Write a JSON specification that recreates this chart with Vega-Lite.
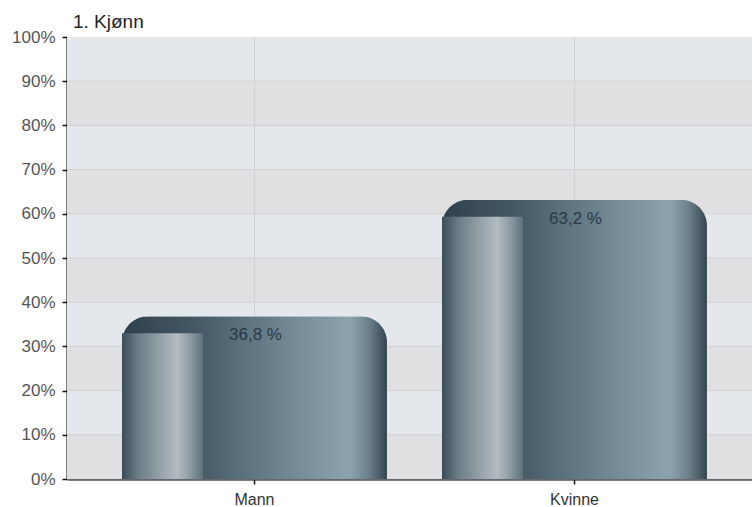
{
  "$schema": "https://vega.github.io/schema/vega-lite/v6.json",
  "width": 685,
  "height": 442,
  "autosize": {"type": "none"},
  "padding": {"left": 67, "top": 37, "right": 0, "bottom": 28},
  "background": "#ffffff",
  "config": {
    "view": {"stroke": null},
    "font": "Liberation Sans",
    "axis": {
      "labelFont": "Liberation Sans", "titleFont": "Liberation Sans",
      "domainColor": "#000000", "domainWidth": 2, "tickColor": "#111111", "tickSize": 5, "tickWidth": 1.5,
      "labelFontSize": 17, "labelPadding": 7, "grid": false, "title": null
    }
  },
  "title": {
    "text": "1. Kjønn",
    "anchor": "start",
    "frame": "group",
    "font": "Liberation Sans",
    "fontSize": 19,
    "fontWeight": "normal",
    "color": "#222222",
    "offset": -4,
    "dx": 6
  },
  "datasets": {
    "bars": [
      {"kjonn": "Mann", "pct": 36.8, "label": "36,8 %"},
      {"kjonn": "Kvinne", "pct": 63.2, "label": "63,2 %"}
    ],
    "bands": [
      {"lo": 0, "hi": 10, "kind": "a"},
      {"lo": 10, "hi": 20, "kind": "b"},
      {"lo": 20, "hi": 30, "kind": "a"},
      {"lo": 30, "hi": 40, "kind": "b"},
      {"lo": 40, "hi": 50, "kind": "a"},
      {"lo": 50, "hi": 60, "kind": "b"},
      {"lo": 60, "hi": 70, "kind": "a"},
      {"lo": 70, "hi": 80, "kind": "b"},
      {"lo": 80, "hi": 90, "kind": "a"},
      {"lo": 90, "hi": 100, "kind": "b"}
    ]
  },
  "layer": [
    {
      "data": {"name": "bands"},
      "mark": {"type": "rect"},
      "encoding": {
        "y": {"field": "lo", "type": "quantitative", "scale": {"domain": [0, 100], "nice": false},
              "axis": {"values": [0,10,20,30,40,50,60,70,80,90,100], "labelExpr": "datum.value + '%'",
                       "labelColor": "#555555"}},
        "y2": {"field": "hi"},
        "color": {"field": "kind", "type": "nominal", "scale": {"domain": ["a", "b"], "range": ["#e0e0e2", "#e4e8ec"]}, "legend": null}
      }
    },
    {
      "data": {"name": "bands"},
      "mark": {"type": "rule", "color": "#cfd0d3", "strokeWidth": 1},
      "encoding": {"y": {"field": "lo", "type": "quantitative"}}
    },
    {
      "data": {"name": "bars"},
      "mark": {"type": "rule", "color": "#cfd0d3", "strokeWidth": 1},
      "encoding": {
        "x": {"field": "kjonn", "type": "nominal", "sort": ["Mann", "Kvinne"],
              "scale": {"range": [0, 695], "paddingInner": 0.172, "paddingOuter": 0.172},
              "axis": {"labelAngle": 0, "labelColor": "#333333", "labelPadding": 7, "labelFontSize": 16}}
      }
    },
    {
      "data": {"name": "bars"},
      "mark": {
        "type": "bar",
        "cornerRadiusTopLeft": 26,
        "cornerRadiusTopRight": 26,
        "color": {
          "gradient": "linear", "x1": 0, "x2": 1, "y1": 0, "y2": 0,
          "stops": [
            {"offset": 0, "color": "#2f414b"},
            {"offset": 0.3, "color": "#465b67"},
            {"offset": 0.45, "color": "#5a707c"},
            {"offset": 0.65, "color": "#748a96"},
            {"offset": 0.86, "color": "#8da3ae"},
            {"offset": 0.93, "color": "#6c818c"},
            {"offset": 1, "color": "#33454f"}
          ]
        }
      },
      "encoding": {
        "x": {"field": "kjonn", "type": "nominal", "sort": ["Mann", "Kvinne"]},
        "y": {"field": "pct", "type": "quantitative"}
      }
    },
    {
      "data": {"name": "bars"},
      "mark": {
        "type": "bar",
        "width": {"band": 0.306},
        "xOffset": -92,
        "yOffset": 17,
        "cornerRadiusTopLeft": 18,
        "color": {
          "gradient": "linear", "x1": 0, "x2": 1, "y1": 0, "y2": 0,
          "stops": [
            {"offset": 0, "color": "#3a4d57"},
            {"offset": 0.2, "color": "#6c7d86"},
            {"offset": 0.68, "color": "#b3bdc2"},
            {"offset": 0.85, "color": "#8a99a0"},
            {"offset": 1, "color": "#5d717c"}
          ]
        }
      },
      "encoding": {
        "x": {"field": "kjonn", "type": "nominal", "sort": ["Mann", "Kvinne"]},
        "y": {"field": "pct", "type": "quantitative"}
      }
    },
    {
      "data": {"name": "bars"},
      "mark": {"type": "text", "baseline": "top", "dy": 11, "dx": 1, "fontSize": 17, "color": "#2a3a44", "font": "Liberation Sans"},
      "encoding": {
        "x": {"field": "kjonn", "type": "nominal", "sort": ["Mann", "Kvinne"]},
        "y": {"field": "pct", "type": "quantitative"},
        "text": {"field": "label"}
      }
    }
  ]
}
